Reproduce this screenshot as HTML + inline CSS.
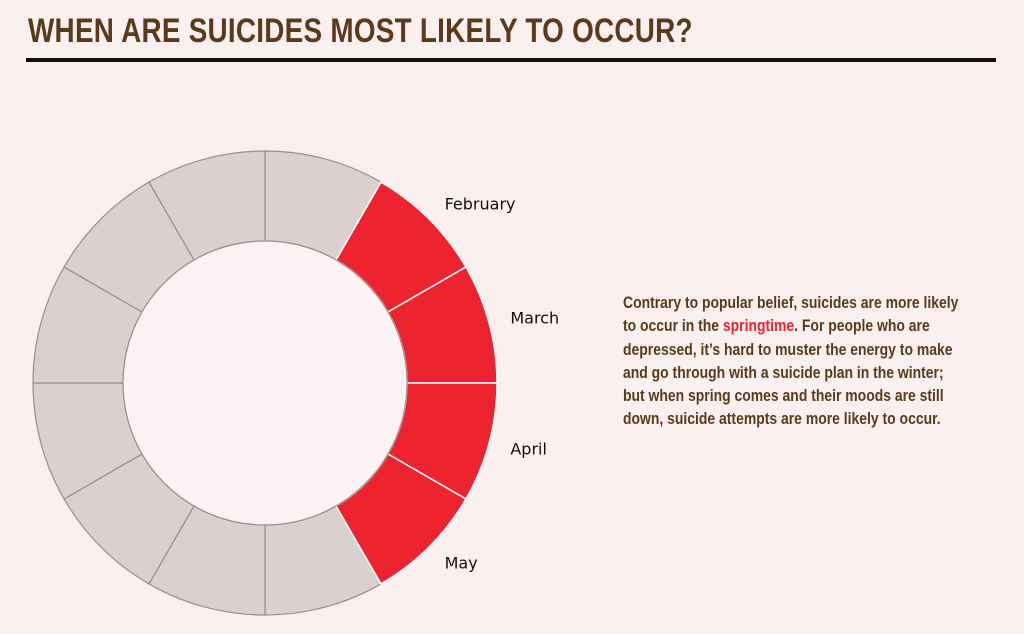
<!DOCTYPE html>
<html><head><meta charset="utf-8"><style>
body{margin:0;background:#faf0f0;width:1024px;height:634px;overflow:hidden;position:relative;font-family:"Liberation Sans",sans-serif}
#title{position:absolute;left:28px;top:12px;font-size:34px;font-weight:bold;color:#5b3a1b;transform:scaleX(0.82);transform-origin:left top;white-space:nowrap;letter-spacing:0.3px}
#rule{position:absolute;left:26px;top:58px;width:970px;height:4px;background:#111}
#para{position:absolute;left:623px;top:291px;width:450px;font-size:17px;line-height:23.3px;font-weight:bold;color:#5b3a1b;transform:scaleX(0.82);transform-origin:left top}
#para span{color:#ed2330}
svg{position:absolute;left:0;top:0}
</style></head><body>
<div id="title">WHEN ARE SUICIDES MOST LIKELY TO OCCUR?</div>
<div id="rule"></div>
<svg id="chart" width="1024" height="634"></svg>
<div id="para">Contrary to popular belief, suicides are more likely<br>to occur in the <span>springtime</span>. For people who are<br>depressed, it’s hard to muster the energy to make<br>and go through with a suicide plan in the winter;<br>but when spring comes and their moods are still<br>down, suicide attempts are more likely to occur.</div>
<script>
const months=["January","February","March","April","May","June","July","August","September","October","November","December"];
const values=[1,1,1,1,1,1,1,1,1,1,1,1];
const highlighted=["February","March","April","May"];
const cx=265,cy=383,R=232,r=142,labelR=254;
const svg=document.getElementById('chart');
const NS='http://www.w3.org/2000/svg';
const total=values.reduce((a,b)=>a+b,0);
function pt(rad,a){return [cx+rad*Math.sin(a),cy-rad*Math.cos(a)];}
let acc=0;
const redPaths=[];
months.forEach((m,i)=>{
  const a0=acc/total*2*Math.PI;acc+=values[i];const a1=acc/total*2*Math.PI;
  const [x0,y0]=pt(R,a0),[x1,y1]=pt(R,a1),[x2,y2]=pt(r,a1),[x3,y3]=pt(r,a0);
  const lg=(a1-a0)>Math.PI?1:0;
  const p=document.createElementNS(NS,'path');
  p.setAttribute('d',`M${x0},${y0}A${R},${R} 0 ${lg} 1 ${x1},${y1}L${x2},${y2}A${r},${r} 0 ${lg} 0 ${x3},${y3}Z`);
  const hi=highlighted.includes(m);
  p.setAttribute('fill',hi?'#ed2330':'#dad0cf');
  p.setAttribute('stroke',hi?'#fff':'#9a8f8e');
  p.setAttribute('stroke-width',hi?1.5:1.2);
  
  
  if(hi)redPaths.push(p);else svg.appendChild(p);
  if(hi){
    const am=(a0+a1)/2;const [lx,ly]=pt(labelR,am);
    const t=document.createElementNS(NS,'text');
    t.setAttribute('x',lx);t.setAttribute('y',ly+6);
    t.setAttribute('font-size','16');t.setAttribute('fill','#111');
    t.setAttribute('font-family','"DejaVu Sans","Liberation Sans",sans-serif');
    t.textContent=m;
    
    
    svg.appendChild(t);
  }
});
redPaths.forEach(p=>svg.appendChild(p));
const hole=document.createElementNS(NS,'circle');
hole.setAttribute('cx',cx);hole.setAttribute('cy',cy);hole.setAttribute('r',r);
hole.setAttribute('fill','#fcf4f4');hole.setAttribute('stroke','#9a8f8e');hole.setAttribute('stroke-width','1.2');


svg.appendChild(hole);
</script>
</body></html>
